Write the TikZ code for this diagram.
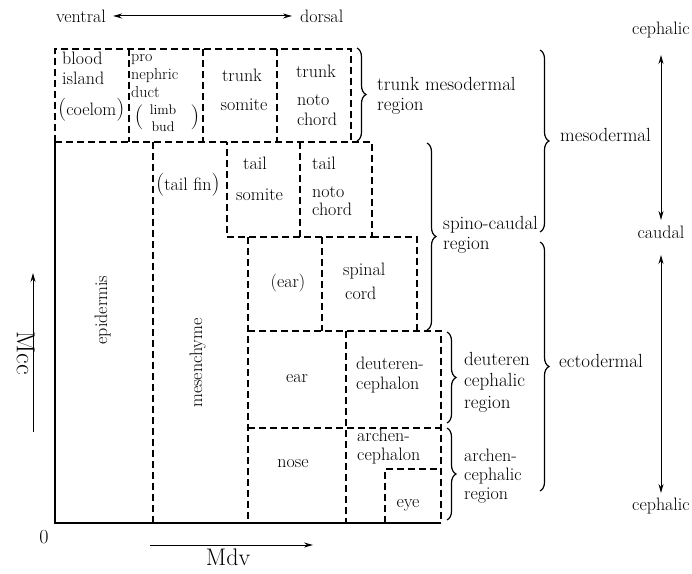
\documentclass[tikz,border=0pt]{standalone}
\usetikzlibrary{decorations.pathreplacing,arrows.meta}
\newcommand\tsz{\fontsize{18}{18}\selectfont}
\newcommand\msz{\fontsize{16}{16}\selectfont}
\newcommand\ssz{\fontsize{14}{14}\selectfont}
\newcommand\rsz{\fontsize{19}{19}\selectfont}
\newcommand\psz{\fontsize{23}{23}\selectfont}
\newcommand\bsz{\fontsize{25}{25}\selectfont}
\begin{document}
\begin{tikzpicture}[x=1pt,y=-1pt,
  txt/.style={font=\tsz, inner sep=0pt},
  lt/.style={txt, anchor=mid west},
  ct/.style={txt, anchor=mid},
  rt/.style={lt, font=\rsz},
  reg/.style={line width=1.3pt, dash pattern=on 7pt off 4pt},
  ax/.style={line width=1.6pt},
  brc/.style={decorate, decoration={brace, amplitude=9pt}, line width=1.2pt},
  arr/.style={line width=1pt, -{Stealth[length=9pt,width=5pt]}},
  darr/.style={line width=1pt, {Stealth[length=9pt,width=5pt]}-{Stealth[length=9pt,width=5pt]}},
]
\useasboundingbox (0,0) rectangle (692,573);

% ---- regions ----
\draw[reg] (55,142) -- (55,49) -- (351,49) -- (351,142);
\draw[reg] (129,49) -- (129,142);
\draw[reg] (203,49) -- (203,142);
\draw[reg] (277,49) -- (277,142);
\draw[reg] (55,142) -- (372,142) -- (372,237) -- (227,237) -- (227,142);
\draw[reg] (300,142) -- (300,237);
\draw[reg] (153,142) -- (153,523);
\draw[reg] (372,237) -- (417,237) -- (417,331);
\draw[reg] (248,237) -- (248,523);
\draw[reg] (322,237) -- (322,331);
\draw[reg] (248,331) -- (441,331) -- (441,523);
\draw[reg] (346,331) -- (346,523);
\draw[reg] (248,428) -- (441,428);
\draw[reg] (385,523) -- (385,469) -- (441,469);
\draw[ax] (55,142) -- (55,523) -- (441,523);

% ---- braces ----
\draw[brc] (357,48) -- (357,141);
\draw[brc] (540,50) -- (540,232);
\draw[brc] (427,143) -- (427,330);
\draw[brc] (540,242) -- (540,491);
\draw[brc] (447,332) -- (447,423);
\draw[brc] (447,428) -- (447,520);

% ---- top row texts ----
\node[lt] (blood) at (62,62) {blood};
\node[lt] (island) at (62,82) {island};
\node[lt] (coelom) at (58,113) {\psz(\tsz coelom\psz)};
\node[lt, font=\msz] (pro) at (131,59) {pro};
\node[lt, font=\msz] (nephric) at (131,77) {nephric};
\node[lt, font=\msz] (duct) at (131,95) {duct};
\node[ct] (lpar) at (139,121) {\bsz(};
\node[ct, font=\ssz] (limb) at (163,112) {limb};
\node[ct, font=\ssz] (bud) at (163,129) {bud};
\node[ct] (rpar) at (195,121) {\bsz)};
\node[ct] (trunkA) at (242,79) {trunk};
\node[ct] (somiteA) at (244,108) {somite};
\node[ct] (trunkB) at (316,75) {trunk};
\node[lt] (notoB) at (297,103) {noto};
\node[lt] (chordB) at (297,123) {chord};
\node[rt] (tmr1) at (377,88) {trunk mesodermal};
\node[rt] (tmr2) at (377,108) {region};

% ---- middle texts ----
\node[lt] (tailfin) at (156,188) {\psz(\tsz tail fin\psz)};
\node[lt] (tailA) at (243,167) {tail};
\node[lt] (somiteB) at (236,198) {somite};
\node[lt] (tailB) at (312,167) {tail};
\node[lt] (notoC) at (312,195) {noto};
\node[lt] (chordC) at (312,213) {chord};
\node[ct] (earP) at (288,285) {(ear)};
\node[lt] (spinal) at (343,273) {spinal};
\node[lt] (cord) at (345,297) {cord};
\node[rt] (sc1) at (443,227) {spino-caudal};
\node[rt] (sc2) at (443,247) {region};

% ---- lower texts ----
\node[ct] (ear) at (297,380) {ear};
\node[lt] (deut1) at (356,367) {deuteren-};
\node[lt] (deut2) at (356,387) {cephalon};
\node[ct] (nose) at (293,465) {nose};
\node[lt] (arch1) at (357,439) {archen-};
\node[lt] (arch2) at (357,458) {cephalon};
\node[ct] (eye) at (408,505) {eye};
\node[rt] (dcr1) at (464,363) {deuteren};
\node[rt] (dcr2) at (464,384) {cephalic};
\node[rt] (dcr3) at (464,406) {region};
\node[lt] (acr1) at (464,459) {archen-};
\node[lt] (acr2) at (464,478) {cephalic};
\node[lt] (acr3) at (464,497) {region};
\node[rt] (meso) at (560,139) {mesodermal};
\node[rt] (ecto) at (559,365) {ectodermal};

% ---- rotated texts ----
\node[ct, rotate=90] (epid) at (105,310) {epidermis};
\node[ct, rotate=90] (mesen) at (200,363) {mesenchyme};

% ---- axes labels ----
\node[ct] (ventral) at (81,20) {ventral};
\node[lt] (dorsal) at (300,20) {dorsal};
\draw[darr] ([xshift=7pt]ventral.east) -- ([xshift=-8pt]dorsal.west);

\node[ct] (cephT) at (661,32) {cephalic};
\node[ct] (caudal) at (661,236) {caudal};
\node[ct] (cephB) at (661,508) {cephalic};
\draw[darr] ([yshift=-23pt]cephT.mid) -- ([yshift=16pt]caudal.mid);
\draw[darr] ([yshift=-19pt]caudal.mid) -- ([yshift=15pt]cephB.mid);

\node[ct, font=\fontsize{26}{26}\selectfont, rotate=-90] (mcc) at (19,353) {Mcc};
\coordinate (mccA) at (33,432);
\coordinate (mccB) at (33,273);
\draw[arr] (mccA) -- (mccB);

\node[ct, font=\fontsize{20}{20}\selectfont] (zero) at (44,541) {0};
\node[ct, font=\fontsize{24}{24}\selectfont] (mdv) at (228,563) {Mdv};
\coordinate (mdvA) at (150,545);
\coordinate (mdvB) at (313,545);
\draw[arr] (mdvA) -- (mdvB);
\end{tikzpicture}
\end{document}
